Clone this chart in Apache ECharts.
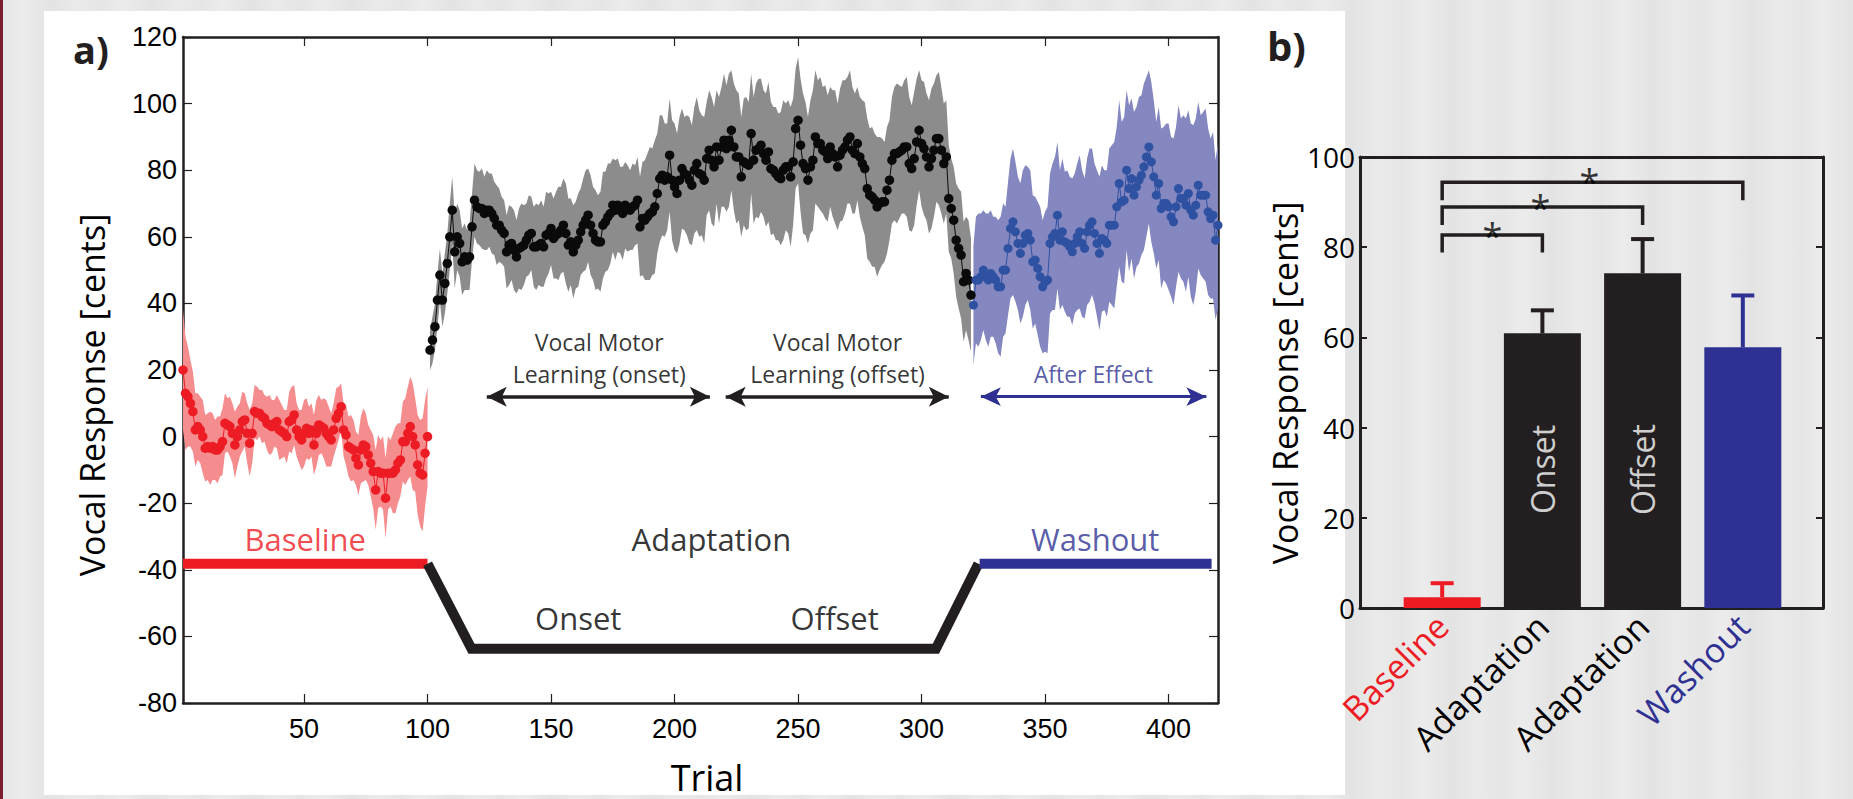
<!DOCTYPE html>
<html><head><meta charset="utf-8">
<script src="https://cdn.jsdelivr.net/npm/echarts@6/dist/echarts.min.js"></script>
<style>
html,body{margin:0;padding:0;width:1853px;height:799px;overflow:hidden;background:#e8e8e8;}
#bg{position:absolute;left:0;top:0;width:1853px;height:799px;background:repeating-linear-gradient(90deg,#e5e5e5 0px,#ececec 23px,#e3e3e3 51px,#eaeaea 77px,#e6e6e6 100px);}
#strip{position:absolute;left:0;top:0;width:3px;height:799px;background:#7b1f2e;}
#panel{position:absolute;left:44px;top:11px;width:1301px;height:784px;background:#ffffff;}
#chart{position:absolute;left:0;top:0;width:1853px;height:799px;}
</style></head><body>
<div id="bg"></div><div id="strip"></div><div id="panel"></div><div id="chart"></div>
<script>
// ---------------- Panel a data (trial-by-trial mean and s.e.) ----------------
const redStart = 1;
const redMean = [
 20, 13, 12, 10, 7.5, 2, 3, 2, 0, -3.5,
 -3, -3.5, -3, -4, -4, -3, -1.5, 4, 3.5, 3,
 1, -2.5, 0, 2, 4.5, 5, 1, -2, 1, 7.5,
 7, 7, 6, 5.5, 4, 3.5, 3, 4, 4.5, 2,
 1.5, 1, 0, 4.5, 5, 6.5, 2, 0, -1, 1,
 2.5, 1, 2, -2.5, 1, 3.5, 3, 2.5, 1, 0,
 -1, 2, 5.5, 7, 9, 2, 0.5, -3, -3.5, -4,
 -6.5, -8.5, -4, -2.5, -3, -5.5, -8, -10.5, -16, -10.5,
 -11, -11, -18.5, -11, -11, -11, -10, -8, -7, -1.5,
 -1.5, 1, 3, 0, -2.5, -8.5, -11, -11.5, -5, 0
];
const redSem = [
 18, 17, 15, 13, 12, 11, 10, 10, 11, 10,
 10, 11, 10, 9, 10, 9, 10, 9, 8, 9,
 9, 10, 9, 8, 9, 8, 9, 10, 9, 8,
 8, 7, 8, 7, 8, 9, 8, 7, 8, 9,
 8, 7, 8, 9, 10, 9, 8, 8, 9, 10,
 9, 8, 8, 9, 10, 9, 8, 9, 10, 9,
 8, 8, 9, 8, 7, 8, 9, 9, 10, 9,
 8, 9, 10, 11, 10, 9, 10, 11, 12, 11,
 10, 11, 12, 11, 10, 12, 13, 12, 11, 12,
 13, 14, 15, 16, 14, 15, 16, 17, 16, 15
];
const blackStart = 101;
const blackMean = [
 26, 29, 33, 41, 48.5, 41, 46, 52, 60, 68,
 55.5, 60, 58, 52.5, 54, 53, 54, 63, 71, 69,
 68.5, 68.5, 67, 68, 68, 67, 65.5, 63.5, 63.5, 62,
 61, 55.5, 57.5, 58, 56, 54, 56.5, 57, 57.5, 59,
 60.5, 61, 57, 57, 57.5, 58, 57, 60.5, 61, 62.5,
 59.5, 60.5, 61, 62, 63.5, 61, 57.5, 58.5, 55.5, 57.5,
 59, 61.5, 63.5, 65, 66.5, 63.5, 61, 59, 58.5, 58.5,
 63.5, 64.5, 66, 67, 69.5, 68, 69.5, 68, 67, 69.5,
 68.5, 68, 69, 69.5, 71, 63, 65.5, 65, 66, 67,
 67.5, 69, 73, 77.5, 78.5, 77, 78, 84.5, 77, 75,
 73, 77, 80.5, 79, 78.5, 77, 75.5, 80, 82, 79,
 78.5, 77, 83.5, 86, 83, 81, 87, 83, 87, 89,
 86.5, 89, 92, 87, 84, 84, 78, 82.5, 82, 81.5,
 91, 83, 86, 86.5, 87.5, 85, 83, 85.5, 80.5, 80,
 79, 78, 77.5, 80, 81, 81, 78, 82.5, 92.5, 95,
 87.5, 82, 80.5, 77, 81, 83, 90, 88, 88, 86,
 85.5, 83.5, 87, 85, 84, 81, 84.5, 86, 87, 89,
 90, 86, 85, 88, 84, 82, 80.5, 74.5, 72.5, 72,
 71, 69, 70, 70.5, 70.5, 74, 77, 83, 85, 85,
 85.5, 86, 87, 87, 82, 80.5, 83.5, 88.5, 92, 88,
 86.5, 84, 81, 83.5, 86, 89.5, 89.5, 86, 82, 84,
 71.5, 68.5, 65, 59, 56.5, 54.5, 46.5, 49, 47, 42.5
];
const blackSem = [
 6, 7, 7, 8, 8, 8, 9, 9, 10, 10,
 11, 10, 10, 10, 10, 9, 10, 10, 11, 11,
 11, 12, 11, 12, 11, 12, 11, 12, 11, 10,
 10, 11, 12, 11, 12, 11, 12, 13, 12, 11,
 12, 11, 12, 13, 12, 13, 12, 13, 12, 11,
 12, 13, 14, 13, 14, 15, 14, 13, 14, 13,
 14, 13, 14, 15, 14, 15, 14, 15, 14, 15,
 16, 15, 16, 15, 14, 15, 14, 13, 14, 13,
 13, 12, 13, 12, 13, 15, 17, 18, 19, 20,
 19, 20, 18, 19, 18, 17, 16, 17, 18, 19,
 18, 19, 18, 17, 18, 19, 18, 19, 20, 19,
 18, 19, 17, 18, 19, 18, 17, 19, 18, 20,
 19, 20, 18, 19, 20, 19, 18, 19, 20, 19,
 18, 19, 20, 21, 20, 19, 20, 21, 20, 19,
 20, 19, 20, 21, 19, 20, 21, 19, 18, 19,
 20, 21, 20, 19, 20, 21, 20, 19, 20, 19,
 20, 19, 18, 19, 20, 19, 20, 21, 20, 19,
 20, 19, 18, 17, 18, 19, 20, 21, 20, 21,
 20, 21, 20, 19, 18, 19, 18, 19, 20, 21,
 20, 19, 20, 21, 20, 19, 20, 19, 18, 19,
 20, 19, 20, 21, 20, 19, 20, 19, 18, 17,
 16, 15, 16, 17, 18, 19, 18, 17, 18, 17
];
const blueStart = 321;
const blueMean = [
 39.5, 47, 47, 48, 50, 48, 47, 49, 48, 47,
 45, 45, 50, 50, 56.5, 62.5, 64.5, 61.5, 58, 55,
 58, 60.5, 61, 59, 52.5, 53, 50.5, 48, 45, 46.5,
 47, 58, 60, 61, 66.5, 59, 61.5, 58.5, 58, 57,
 55.5, 58, 60, 61.5, 58, 56.5, 61.5, 63.5, 64.5, 61,
 58, 55, 59.5, 59, 58, 63.5, 63.5, 63.5, 69, 76,
 70.5, 71, 80, 74.5, 77.5, 72.5, 75, 77, 78.5, 81,
 84, 87, 82.5, 78, 72.5, 76, 68.5, 70, 70, 69,
 66, 64.5, 69, 74.5, 71.5, 71.5, 69.5, 73, 68, 66.5,
 69.5, 75.5, 72.5, 72.5, 72.5, 67.5, 65.5, 66.5, 59, 63.5
];
const blueSem = [
 18, 19, 20, 19, 18, 19, 20, 19, 18, 19,
 20, 21, 20, 19, 20, 21, 22, 21, 20, 21,
 22, 21, 20, 21, 20, 19, 20, 21, 20, 21,
 22, 21, 22, 23, 22, 21, 22, 21, 22, 21,
 22, 21, 22, 23, 22, 21, 22, 23, 22, 21,
 22, 23, 22, 21, 22, 23, 24, 25, 24, 25,
 24, 25, 24, 25, 24, 25, 24, 25, 24, 25,
 24, 23, 24, 23, 22, 23, 24, 23, 24, 25,
 24, 25, 24, 25, 24, 25, 26, 25, 26, 27,
 26, 25, 24, 25, 26, 25, 24, 25, 24, 25
];
const trialTicks = [50, 100, 150, 200, 250, 300, 350, 400];

// phase schematic (trial, cents)
const phaseRed = [[1, -38.2], [100, -38.2]];
const phaseBlack = [[100, -38.2], [117.8, -63.7], [305.8, -63.7], [323, -38.2]];
const phaseBlue = [[323.5, -38.2], [417.4, -38.2]];

const phaseLabels = ['Baseline', 'Adaptation', 'Washout', 'Onset', 'Offset'];
const phaseLabelPos = [[50.5, -30.7], [214.9, -30.7], [370.3, -30.7], [161, -54.5], [264.8, -54.5]];
const phaseLabelColors = ['#ED1C24', '#000000', '#2E3192', '#000000', '#000000'];

const learnLines = ['Vocal Motor', 'Learning (onset)', 'Vocal Motor', 'Learning (offset)', 'After Effect'];
const learnPos = [[169.5, 28.4], [169.5, 18.9], [266, 28.4], [266, 18.9], [369.5, 18.9]];
const learnColors = ['#000000', '#000000', '#000000', '#000000', '#2E3192'];
const arrowFrom = [124, 220.7, 324];
const arrowTo = [214.3, 311, 415.3];
const arrowY = [12, 12, 12];

// ---------------- Panel b data ----------------
const barCats = ['Baseline', 'Adaptation', 'Adaptation', 'Washout'];
const barPos = [1, 2, 3, 4];
const barMean = [2.4, 60.9, 74.2, 57.8];
const barErr = [3.1, 5.1, 7.6, 11.5];
const barColors = ['#ED1C24', '#231F20', '#231F20', '#2E3192'];
const barInnerText = ['Onset', 'Offset'];
const barInnerPos = [[2, 30.7], [3, 30.7]];
const bracketFrom = [1, 1, 1];
const bracketTo = [2, 3, 4];
const bracketTop = [82.7, 88.9, 94.4];
const bracketLeg = [78.8, 84.9, 90.4];
const starPos = [[1.5, 84.5], [1.98, 90.9], [2.47, 96.6]];

// ---------------- chart ----------------
const FS = '"Open Sans"';
const FA = '"Liberation Sans"';
const AX = '#231F20';

const chart = echarts.init(document.getElementById('chart'), null, {renderer: 'svg', width: 1853, height: 799});

function pts(start, arr) { return arr.map((v, i) => [start + i, v]); }

function band(start, mean, sem, color) {
  const rows = mean.map((v, i) => [start + i, v - sem[i], v + sem[i]]);
  return {type: 'custom', xAxisIndex: 0, yAxisIndex: 0, silent: true, z: 1,
    data: rows, encode: {x: 0, y: [1, 2]},
    renderItem: function (params, api) {
      if (params.dataIndex !== 0) return null;
      const up = rows.map(r => api.coord([r[0], r[2]]));
      const lo = rows.map(r => api.coord([r[0], r[1]])).reverse();
      return {type: 'polygon', shape: {points: up.concat(lo)}, style: {fill: color, stroke: null}};
    }};
}
function dots(start, mean, color, size) {
  return {type: 'line', xAxisIndex: 0, yAxisIndex: 0, data: pts(start, mean), symbol: 'circle', symbolSize: size,
    showSymbol: true, showAllSymbol: true, itemStyle: {color: color, borderWidth: 0},
    lineStyle: {color: color, width: 1}, silent: true, z: 4};
}
function arrowData(idx) {
  return idx.map(i => [{coord: [arrowFrom[i], arrowY[i]]}, {coord: [arrowTo[i], arrowY[i]]}]);
}

const series = [];
series.push(band(redStart, redMean, redSem, '#F58C8E'));
series.push(band(blackStart, blackMean, blackSem, '#8C8C8C'));
series.push(band(blueStart, blueMean, blueSem, '#8487C0'));
series.push({type: 'line', xAxisIndex: 0, yAxisIndex: 0, data: phaseRed, symbol: 'none',
  lineStyle: {color: '#ED1C24', width: 10, cap: 'butt'}, silent: true, z: 2});
series.push({type: 'line', xAxisIndex: 0, yAxisIndex: 0, data: phaseBlack, symbol: 'none',
  lineStyle: {color: '#231F20', width: 10, cap: 'butt', join: 'miter'}, silent: true, z: 2,
  markLine: {silent: true, symbol: ['arrow', 'arrow'], symbolSize: [15, 20], label: {show: false},
    lineStyle: {type: 'solid', width: 3.5, color: '#231F20'}, data: arrowData([0, 1]), animation: false}});
series.push({type: 'line', xAxisIndex: 0, yAxisIndex: 0, data: phaseBlue, symbol: 'none',
  lineStyle: {color: '#2E3192', width: 10, cap: 'butt'}, silent: true, z: 2,
  markLine: {silent: true, symbol: ['arrow', 'arrow'], symbolSize: [14, 20], label: {show: false},
    lineStyle: {type: 'solid', width: 3, color: '#2E3192'}, data: arrowData([2]), animation: false}});
series.push(dots(redStart, redMean, '#ED1C24', 9.5));
series.push(dots(blackStart, blackMean, '#0A0A0A', 9.5));
series.push(dots(blueStart, blueMean, '#2F51A2', 9));
series.push({type: 'scatter', xAxisIndex: 0, yAxisIndex: 0, symbolSize: 1, itemStyle: {color: 'rgba(0,0,0,0)'}, silent: true, z: 6,
  data: phaseLabels.map((t, i) => ({value: phaseLabelPos[i],
    label: {show: true, position: 'inside', formatter: t, color: phaseLabelColors[i], fontFamily: FS, fontSize: 31}}))});
series.push({type: 'scatter', xAxisIndex: 0, yAxisIndex: 0, symbolSize: 1, itemStyle: {color: 'rgba(0,0,0,0)'}, silent: true, z: 6,
  data: learnLines.map((t, i) => ({value: learnPos[i],
    label: {show: true, position: 'inside', formatter: t, color: learnColors[i], fontFamily: FS, fontSize: 23}}))});

// panel b
series.push({type: 'bar', xAxisIndex: 2, yAxisIndex: 2, barWidth: 77, silent: true, z: 2,
  data: barPos.map((x, i) => ({value: [x, barMean[i]], itemStyle: {color: barColors[i]}}))});
series.push({type: 'custom', xAxisIndex: 2, yAxisIndex: 2, silent: true, z: 3,
  data: barPos.map((x, i) => [x, barMean[i], barMean[i] + barErr[i], i]),
  renderItem: function (params, api) {
    const x = api.value(0), m = api.value(1), hi = api.value(2), i = api.value(3);
    const p0 = api.coord([x, m]), p1 = api.coord([x, hi]);
    const c = barColors[i];
    return {type: 'group', children: [
      {type: 'line', shape: {x1: p0[0], y1: p0[1], x2: p1[0], y2: p1[1]}, style: {stroke: c, lineWidth: 4}},
      {type: 'line', shape: {x1: p1[0] - 11.5, y1: p1[1], x2: p1[0] + 11.5, y2: p1[1]}, style: {stroke: c, lineWidth: 4}}
    ]};
  }});
bracketFrom.forEach((f, i) => {
  series.push({type: 'line', xAxisIndex: 2, yAxisIndex: 2, symbol: 'none', silent: true, z: 3,
    data: [[f, bracketLeg[i]], [f, bracketTop[i]], [bracketTo[i], bracketTop[i]], [bracketTo[i], bracketLeg[i]]],
    lineStyle: {color: AX, width: 3.5, join: 'miter', cap: 'butt'}});
});
series.push({type: 'scatter', xAxisIndex: 2, yAxisIndex: 2, symbolSize: 1, itemStyle: {color: 'rgba(0,0,0,0)'}, silent: true, z: 6,
  data: starPos.map(p => ({value: p})),
  label: {show: true, position: 'inside', formatter: '*', color: '#000', fontFamily: FS, fontSize: 36, offset: [0, 9]}});
series.push({type: 'scatter', xAxisIndex: 2, yAxisIndex: 2, symbolSize: 1, itemStyle: {color: 'rgba(0,0,0,0)'}, silent: true, z: 6,
  data: barInnerPos.map((p, i) => ({value: p, label: {formatter: barInnerText[i]}})),
  label: {show: true, position: 'inside', rotate: 90, color: '#FFFFFF', fontFamily: FS, fontSize: 32}});

const richCats = {};
barColors.forEach((c, i) => { richCats['c' + i] = {color: i === 1 || i === 2 ? '#000' : c, fontFamily: FS, fontSize: 34}; });

const option = {
  animation: false,
  grid: [
    {left: 183, top: 37, width: 1035, height: 666, containLabel: false},
    {left: 1360, top: 157, width: 463, height: 451, containLabel: false}
  ],
  xAxis: [
    {gridIndex: 0, type: 'value', min: 1, max: 420, position: 'bottom',
     axisLine: {show: true, onZero: false, lineStyle: {color: AX, width: 2.5}},
     axisTick: {show: true, inside: true, length: 9, customValues: trialTicks, lineStyle: {color: AX, width: 1.2}},
     axisLabel: {show: true, customValues: trialTicks, margin: 12, color: '#000', fontFamily: FA, fontSize: 27},
     splitLine: {show: false}},
    {gridIndex: 0, type: 'value', min: 1, max: 420, position: 'top',
     axisLine: {show: true, onZero: false, lineStyle: {color: AX, width: 2.5}},
     axisTick: {show: true, inside: true, length: 9, customValues: trialTicks, lineStyle: {color: AX, width: 1.2}},
     axisLabel: {show: false}, splitLine: {show: false}},
    {gridIndex: 1, type: 'value', min: 0.18, max: 4.8, position: 'bottom',
     axisLine: {show: true, onZero: false, lineStyle: {color: AX, width: 3}},
     axisTick: {show: false},
     axisLabel: {show: true, customValues: barPos, rotate: 45, margin: 12,
       formatter: function (v) { const i = barPos.indexOf(v); return i < 0 ? '' : '{c' + i + '|' + barCats[i] + '}'; },
       rich: richCats},
     splitLine: {show: false}},
    {gridIndex: 1, type: 'value', min: 0.18, max: 4.8, position: 'top',
     axisLine: {show: true, onZero: false, lineStyle: {color: AX, width: 3}},
     axisTick: {show: false}, axisLabel: {show: false}, splitLine: {show: false}}
  ],
  yAxis: [
    {gridIndex: 0, type: 'value', min: -80, max: 120, interval: 20, position: 'left',
     axisLine: {show: true, onZero: false, lineStyle: {color: AX, width: 2.5}},
     axisTick: {show: true, inside: true, length: 9, lineStyle: {color: AX, width: 1.2}},
     axisLabel: {show: true, margin: 6, color: '#000', fontFamily: FA, fontSize: 27},
     splitLine: {show: false}},
    {gridIndex: 0, type: 'value', min: -80, max: 120, interval: 20, position: 'right',
     axisLine: {show: true, onZero: false, lineStyle: {color: AX, width: 2.5}},
     axisTick: {show: true, inside: true, length: 9, lineStyle: {color: AX, width: 1.2}},
     axisLabel: {show: false}, splitLine: {show: false}},
    {gridIndex: 1, type: 'value', min: 0, max: 100, interval: 20, position: 'left',
     axisLine: {show: true, onZero: false, lineStyle: {color: AX, width: 3}},
     axisTick: {show: true, inside: true, length: 7, lineStyle: {color: AX, width: 2}},
     axisLabel: {show: true, margin: 5, color: '#000', fontFamily: FS, fontSize: 28},
     splitLine: {show: false}},
    {gridIndex: 1, type: 'value', min: 0, max: 100, interval: 20, position: 'right',
     axisLine: {show: true, onZero: false, lineStyle: {color: AX, width: 3}},
     axisTick: {show: true, inside: true, length: 7, lineStyle: {color: AX, width: 2}},
     axisLabel: {show: false}, splitLine: {show: false}}
  ],
  graphic: [
    {type: 'text', x: 73, y: 49, silent: true, style: {text: 'a)', font: 'bold 38px "Open Sans"', fill: AX,
      align: 'left', verticalAlign: 'middle', textAlign: 'left', textVerticalAlign: 'middle'}},
    {type: 'text', x: 1267, y: 45, silent: true, style: {text: 'b)', font: 'bold 40px "Open Sans"', fill: AX,
      align: 'left', verticalAlign: 'middle', textAlign: 'left', textVerticalAlign: 'middle'}},
    {type: 'text', x: 92, y: 395, rotation: Math.PI / 2, silent: true, style: {text: 'Vocal Response [cents]',
      font: '34px "Open Sans"', fill: '#000', align: 'center', verticalAlign: 'middle', textAlign: 'center', textVerticalAlign: 'middle'}},
    {type: 'text', x: 1285, y: 383, rotation: Math.PI / 2, silent: true, style: {text: 'Vocal Response [cents]',
      font: '34px "Open Sans"', fill: '#000', align: 'center', verticalAlign: 'middle', textAlign: 'center', textVerticalAlign: 'middle'}},
    {type: 'text', x: 707, y: 777, silent: true, style: {text: 'Trial', font: '36px "Open Sans"', fill: '#000',
      align: 'center', verticalAlign: 'middle', textAlign: 'center', textVerticalAlign: 'middle'}}
  ],
  series: series
};
chart.setOption(option);
</script></body></html>
